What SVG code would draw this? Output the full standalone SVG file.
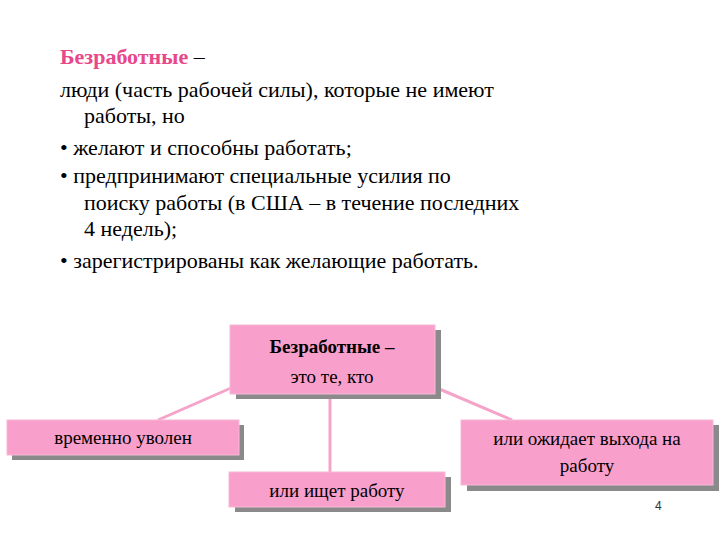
<svg xmlns="http://www.w3.org/2000/svg" width="720" height="540" viewBox="0 0 720 540">
<style>
.t{font-family:'Liberation Serif','DejaVu Serif',serif;font-size:22px;fill:#000}
.b{font-family:'Liberation Serif','DejaVu Serif',serif;font-size:19px;fill:#000;text-anchor:middle}
.box{fill:#f99fcb;stroke:#f5b8d6;stroke-width:1}
.sh{fill:#8a8a8a}
.c{stroke:#f4a4c8;stroke-width:3;fill:none}
</style>
<rect width="720" height="540" fill="#fff"/>
<g id="text">
<text class="t" x="60" y="64"><tspan fill="#e8488a" font-weight="bold">Безработные</tspan> –</text>
<text class="t" x="60" y="97">люди (часть рабочей силы),  которые не имеют</text>
<text class="t" x="84" y="123">работы, но</text>
<text class="t" x="60" y="155">•  желают и способны работать;</text>
<text class="t" x="60" y="183">•   предпринимают специальные усилия по</text>
<text class="t" x="84" y="210">поиску работы (в США – в течение последних</text>
<text class="t" x="84" y="236">4 недель);</text>
<text class="t" x="60" y="268">•   зарегистрированы как желающие работать.</text>
</g>
<g id="connectors">
<line class="c" x1="158" y1="420" x2="231" y2="388"/>
<line class="c" x1="330" y1="472" x2="330" y2="394"/>
<line class="c" x1="512" y1="420" x2="437" y2="388"/>
</g>
<g id="top">
<rect class="sh" x="236" y="330" width="205" height="69"/>
<rect class="box" x="230" y="325" width="205" height="69"/>
<text class="b" x="332" y="353" font-weight="bold">Безработные –</text>
<text class="b" x="332" y="383">это те, кто</text>
</g>
<g id="left">
<rect class="sh" x="12" y="425" width="232" height="35"/>
<rect class="box" x="7" y="420" width="232" height="35"/>
<text class="b" x="123" y="444">временно уволен</text>
</g>
<g id="mid">
<rect class="sh" x="235" y="477" width="216" height="35"/>
<rect class="box" x="229" y="472" width="216" height="35"/>
<text class="b" x="337" y="497">или ищет работу</text>
</g>
<g id="right">
<rect class="sh" x="467" y="425" width="252" height="66"/>
<rect class="box" x="461" y="420" width="252" height="65"/>
<text class="b" x="587" y="445">или ожидает выхода на</text>
<text class="b" x="587" y="472">работу</text>
</g>
<text x="655" y="510" font-family="'Liberation Sans',sans-serif" font-size="12" fill="#333">4</text>
</svg>
